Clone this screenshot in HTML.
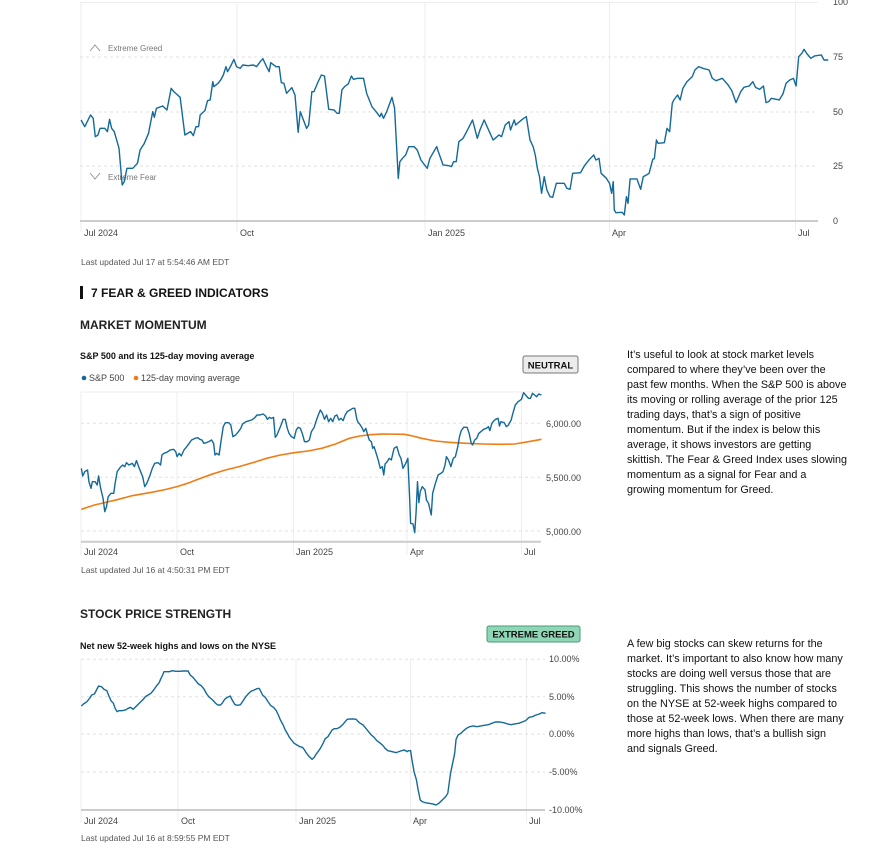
<!DOCTYPE html>
<html><head><meta charset="utf-8"><style>
html,body{margin:0;padding:0;background:#fff;}
svg{display:block;font-family:"Liberation Sans",sans-serif;}
.ax{font-size:9px;fill:#444;}
.sm{font-size:8px;fill:#777;}
.p{font-size:10.8px;fill:#111;}
.ln{fill:none;stroke:#136a99;stroke-width:1.4;vector-effect:non-scaling-stroke;stroke-linejoin:round;}
.ma{fill:none;stroke:#f07c14;stroke-width:1.6;vector-effect:non-scaling-stroke;}
.g{stroke:#eee;stroke-width:1;}
.d{stroke:#e2e2e2;stroke-width:1;stroke-dasharray:3,3;}
</style></head><body>
<svg width="886" height="861" viewBox="0 0 886 861" xmlns="http://www.w3.org/2000/svg">
<rect width="886" height="861" fill="#fff"/>
<!-- CHART 1 -->
<line x1="80" y1="2.5" x2="818" y2="2.5" stroke="#eee"/>
<g class="g"><line x1="81" y1="2" x2="81" y2="232"/><line x1="237" y1="2" x2="237" y2="232"/><line x1="425" y1="2" x2="425" y2="232"/><line x1="609.5" y1="2" x2="609.5" y2="232"/><line x1="795.5" y1="2" x2="795.5" y2="232"/></g>
<g class="d"><line x1="80" y1="57" x2="818" y2="57"/><line x1="80" y1="112" x2="818" y2="112"/><line x1="80" y1="166" x2="818" y2="166"/></g>
<line x1="80" y1="221" x2="818" y2="221" stroke="#ccc" stroke-width="2"/>
<text class="ax" x="833" y="5">100</text><text class="ax" x="833" y="60">75</text><text class="ax" x="833" y="115">50</text><text class="ax" x="833" y="169">25</text><text class="ax" x="833" y="224">0</text>
<polyline points="90,51 95,45 100,51" fill="none" stroke="#888" stroke-width="0.8"/><text class="sm" x="108" y="51">Extreme Greed</text>
<polyline points="90,173 95,179 100,173" fill="none" stroke="#888" stroke-width="0.8"/><text class="sm" x="108" y="180">Extreme Fear</text>
<g transform="translate(60,0) scale(0.5269,0.3333)"><polyline class="ln" points="40,360 47,380 58,345 63,355 67,410 72,405 76,385 85,385 90,395 94,358 98,385 103,395 112,445 118,555 122,545 127,505 138,505 147,490 152,450 160,430 168,400 176,335 179,352 183,325 195,318 203,330 211,265 216,275 228,292 237,405 248,395 253,407 258,380 263,380 266,345 275,332 280,302 285,300 290,245 292,260 300,250 305,240 310,225 315,200 318,215 325,195 330,178 335,200 342,205 347,195 357,197 367,195 373,200 380,185 385,176 392,200 397,215 400,188 410,200 416,200 420,248 425,250 430,280 440,263 446,285 452,397 456,335 462,360 468,385 472,375 478,275 482,275 490,245 496,225 502,228 510,328 520,330 526,340 530,340 535,270 540,260 547,252 553,228 557,238 565,235 576,235 582,280 592,320 600,335 607,350 610,340 614,355 620,335 630,292 635,325 642,535 645,485 650,475 656,465 662,440 672,440 678,450 685,480 692,495 697,505 702,475 715,440 718,455 727,495 738,497 743,500 747,485 752,485 757,425 765,415 770,400 775,385 783,360 792,415 797,390 805,360 812,385 822,420 826,415 833,405 838,410 845,375 852,365 855,390 862,360 865,375 872,365 880,355 885,350 892,420 898,440 902,465 906,505 910,530 914,580 919,530 924,570 930,590 935,592 942,550 957,550 962,565 968,568 973,520 988,518 995,498 1005,478 1013,465 1017,480 1023,475 1027,520 1037,535 1043,550 1047,580 1050,545 1052,630 1055,638 1067,637 1071,645 1075,590 1078,610 1082,537 1095,537 1102,568 1107,530 1113,525 1118,520 1125,478 1128,476 1132,420 1135,430 1147,428 1152,385 1157,395 1162,310 1165,300 1172,285 1177,300 1182,265 1190,245 1200,230 1205,210 1212,200 1220,205 1232,210 1238,235 1245,242 1257,235 1268,255 1275,272 1283,308 1292,275 1298,262 1308,258 1315,245 1320,262 1328,268 1335,258 1340,308 1345,305 1350,295 1365,300 1372,282 1378,250 1385,240 1392,235 1397,258 1402,170 1408,160 1412,148 1418,162 1425,175 1432,168 1445,165 1450,180 1458,180"/></g>
<text class="ax" x="84" y="236">Jul 2024</text><text class="ax" x="240" y="236">Oct</text><text class="ax" x="428" y="236">Jan 2025</text><text class="ax" x="612" y="236">Apr</text><text class="ax" x="798" y="236">Jul</text>
<text class="ax" x="81" y="265" style="font-size:8.5px;fill:#555">Last updated Jul 17 at 5:54:46 AM EDT</text>
<!-- headings -->
<rect x="80" y="286" width="3" height="13" fill="#111"/>
<text x="91" y="297" style="font-size:12px;font-weight:bold;fill:#111">7 FEAR &amp; GREED INDICATORS</text>
<text x="80" y="329" style="font-size:12px;font-weight:bold;fill:#222">MARKET MOMENTUM</text>
<text x="80" y="359" style="font-size:9px;font-weight:bold;fill:#111">S&amp;P 500 and its 125-day moving average</text>
<rect x="523" y="356" width="55" height="17" rx="2" fill="#ececec" stroke="#777"/>
<text x="550.5" y="368.5" text-anchor="middle" style="font-size:9.5px;font-weight:bold;fill:#111">NEUTRAL</text>
<circle cx="84" cy="378" r="2.3" fill="#136a99"/><text class="ax" x="89" y="381">S&amp;P 500</text>
<circle cx="136" cy="378" r="2.3" fill="#f07c14"/><text class="ax" x="141" y="381">125-day moving average</text>
<!-- CHART 2 -->
<line x1="81" y1="392" x2="541" y2="392" stroke="#eee"/>
<g class="g"><line x1="81" y1="392" x2="81" y2="555"/><line x1="177" y1="392" x2="177" y2="555"/><line x1="293.5" y1="392" x2="293.5" y2="555"/><line x1="407" y1="392" x2="407" y2="555"/><line x1="521.5" y1="392" x2="521.5" y2="555"/></g>
<g class="d"><line x1="81" y1="423.3" x2="541" y2="423.3"/><line x1="81" y1="477.3" x2="541" y2="477.3"/><line x1="81" y1="531" x2="541" y2="531"/></g>
<line x1="81" y1="541.7" x2="541" y2="541.7" stroke="#ccc" stroke-width="2"/>
<text class="ax" x="546" y="427">6,000.00</text><text class="ax" x="546" y="481">5,500.00</text><text class="ax" x="546" y="535">5,000.00</text>
<g transform="translate(60,340) scale(0.3444,0.3333)">
<polyline class="ma" points="62,508 100,495 130,488 170,478 210,467 260,458 300,450 340,440 370,430 400,418 440,403 480,390 520,380 560,368 600,355 640,345 680,338 720,333 760,325 800,312 840,295 870,288 900,284 940,282 1000,283 1020,287 1050,295 1090,303 1130,307 1180,310 1230,312 1280,313 1320,312 1360,305 1398,298"/>
<polyline class="ln" points="62,385 66,408 72,395 80,390 84,425 90,445 94,425 102,425 108,435 112,408 118,445 125,475 130,515 135,500 140,470 148,460 156,460 160,430 166,395 175,382 182,375 188,380 193,368 200,375 210,370 216,380 222,362 230,385 240,410 246,440 252,430 260,410 268,385 275,370 285,368 292,375 296,345 302,340 310,337 320,330 330,328 336,335 340,350 346,340 352,348 360,330 368,320 375,310 382,300 392,295 400,293 406,298 412,300 418,310 425,308 432,305 440,300 446,310 450,345 455,340 462,345 468,300 474,260 480,248 490,248 496,255 502,290 510,285 518,275 525,265 530,252 540,245 550,242 556,240 564,235 572,225 580,225 590,222 597,228 602,238 608,232 614,235 620,232 625,292 630,285 636,270 642,255 648,238 654,238 660,265 665,280 672,290 680,295 686,270 692,262 698,265 704,282 710,305 718,305 724,300 730,275 738,262 744,242 750,225 756,210 762,220 768,238 774,225 780,245 786,235 792,245 798,228 804,225 810,240 816,235 822,242 828,225 834,215 842,210 850,205 856,205 862,238 866,248 870,252 878,265 882,275 888,265 892,280 898,300 904,305 908,325 912,320 918,340 924,360 930,385 936,380 940,405 944,372 950,365 956,355 962,360 970,325 978,320 985,345 990,355 996,385 1004,370 1010,355 1015,470 1018,550 1025,552 1030,578 1034,515 1038,425 1042,488 1046,455 1052,440 1060,450 1064,480 1070,490 1078,525 1082,460 1090,430 1098,405 1106,400 1112,395 1118,375 1122,350 1128,360 1135,380 1142,355 1148,350 1155,320 1160,290 1165,272 1172,262 1182,262 1188,280 1194,310 1198,315 1204,300 1210,295 1216,280 1222,275 1230,268 1238,265 1244,260 1248,272 1254,250 1260,242 1265,238 1272,235 1276,258 1280,245 1290,248 1296,260 1302,255 1310,240 1315,220 1322,195 1330,185 1340,178 1346,158 1352,165 1360,175 1366,175 1372,160 1378,165 1384,170 1390,162 1398,165"/></g>
<text class="ax" x="84" y="555">Jul 2024</text><text class="ax" x="180" y="555">Oct</text><text class="ax" x="296" y="555">Jan 2025</text><text class="ax" x="410" y="555">Apr</text><text class="ax" x="524" y="555">Jul</text>
<text x="81" y="573" style="font-size:8.5px;fill:#555">Last updated Jul 16 at 4:50:31 PM EDT</text>
<!-- text 1 -->
<g class="p">
<text x="627" y="358">It’s useful to look at stock market levels</text>
<text x="627" y="373">compared to where they’ve been over the</text>
<text x="627" y="388">past few months. When the S&amp;P 500 is above</text>
<text x="627" y="403">its moving or rolling average of the prior 125</text>
<text x="627" y="418">trading days, that’s a sign of positive</text>
<text x="627" y="433">momentum. But if the index is below this</text>
<text x="627" y="448">average, it shows investors are getting</text>
<text x="627" y="463">skittish. The Fear &amp; Greed Index uses slowing</text>
<text x="627" y="478">momentum as a signal for Fear and a</text>
<text x="627" y="493">growing momentum for Greed.</text>
</g>
<!-- section 2 -->
<text x="80" y="618" style="font-size:12px;font-weight:bold;fill:#222">STOCK PRICE STRENGTH</text>
<rect x="487" y="626" width="93" height="16" rx="2" fill="#8ed6b6" stroke="#4a9a78"/>
<text x="533.5" y="637.5" text-anchor="middle" style="font-size:9.5px;font-weight:bold;fill:#111">EXTREME GREED</text>
<text x="80" y="649" style="font-size:9px;font-weight:bold;fill:#111">Net new 52-week highs and lows on the NYSE</text>
<!-- CHART 3 -->
<g class="g"><line x1="81" y1="659" x2="81" y2="822"/><line x1="178" y1="659" x2="178" y2="822"/><line x1="296" y1="659" x2="296" y2="822"/><line x1="410.5" y1="659" x2="410.5" y2="822"/><line x1="526.5" y1="659" x2="526.5" y2="822"/></g>
<g class="d"><line x1="81" y1="659.3" x2="545" y2="659.3"/><line x1="81" y1="696.7" x2="545" y2="696.7"/><line x1="81" y1="734" x2="545" y2="734"/><line x1="81" y1="772" x2="545" y2="772"/></g>
<line x1="81" y1="810" x2="545" y2="810" stroke="#ccc" stroke-width="2"/>
<text class="ax" x="549" y="662">10.00%</text><text class="ax" x="549" y="700">5.00%</text><text class="ax" x="549" y="737">0.00%</text><text class="ax" x="549" y="775">-5.00%</text><text class="ax" x="549" y="813">-10.00%</text>
<g transform="translate(60,620) scale(0.3444,0.3333)"><polyline class="ln" points="62,258 68,252 78,245 86,235 92,225 100,222 106,210 112,198 120,200 128,208 136,212 142,228 148,242 155,250 160,265 166,275 172,272 180,272 190,270 198,265 205,262 212,268 218,262 225,255 232,248 240,240 248,230 256,225 264,220 272,210 280,198 288,188 292,178 298,165 302,155 310,155 318,155 326,152 336,154 346,154 358,153 372,153 378,165 386,172 394,182 402,192 410,197 418,207 426,222 432,230 440,237 446,243 452,250 458,255 466,255 472,248 478,238 486,232 494,228 500,240 508,254 516,256 524,254 530,245 538,232 548,220 556,213 564,210 572,206 578,205 582,212 588,225 596,232 604,245 612,257 620,262 628,272 634,285 640,300 648,315 654,330 660,340 666,352 672,360 680,370 688,375 696,380 704,382 710,390 716,400 722,408 728,414 732,418 738,412 744,402 750,394 756,385 764,370 770,356 778,350 784,340 790,330 796,326 804,326 812,322 820,315 828,305 834,298 842,297 852,297 860,298 866,305 872,310 880,315 888,325 896,335 904,345 912,352 920,362 928,368 936,375 944,385 952,392 960,394 968,396 976,398 984,395 992,392 1000,390 1008,395 1012,392 1018,392 1022,420 1028,455 1035,480 1040,510 1046,540 1052,545 1060,548 1072,550 1082,552 1092,555 1100,550 1110,540 1120,530 1126,520 1130,490 1134,460 1140,430 1146,400 1150,358 1156,345 1164,340 1172,332 1180,325 1190,320 1200,318 1210,320 1222,318 1232,316 1244,314 1254,310 1264,306 1276,306 1288,308 1300,312 1310,314 1320,312 1332,310 1342,306 1352,302 1362,292 1372,290 1382,285 1392,282 1400,278 1410,280"/></g>
<text class="ax" x="84" y="824">Jul 2024</text><text class="ax" x="181" y="824">Oct</text><text class="ax" x="299" y="824">Jan 2025</text><text class="ax" x="413" y="824">Apr</text><text class="ax" x="529" y="824">Jul</text>
<text x="81" y="841" style="font-size:8.5px;fill:#555">Last updated Jul 16 at 8:59:55 PM EDT</text>
<!-- text 2 -->
<g class="p">
<text x="627" y="647">A few big stocks can skew returns for the</text>
<text x="627" y="662">market. It’s important to also know how many</text>
<text x="627" y="677">stocks are doing well versus those that are</text>
<text x="627" y="692">struggling. This shows the number of stocks</text>
<text x="627" y="707">on the NYSE at 52-week highs compared to</text>
<text x="627" y="722">those at 52-week lows. When there are many</text>
<text x="627" y="737">more highs than lows, that’s a bullish sign</text>
<text x="627" y="752">and signals Greed.</text>
</g>
</svg>
</body></html>
